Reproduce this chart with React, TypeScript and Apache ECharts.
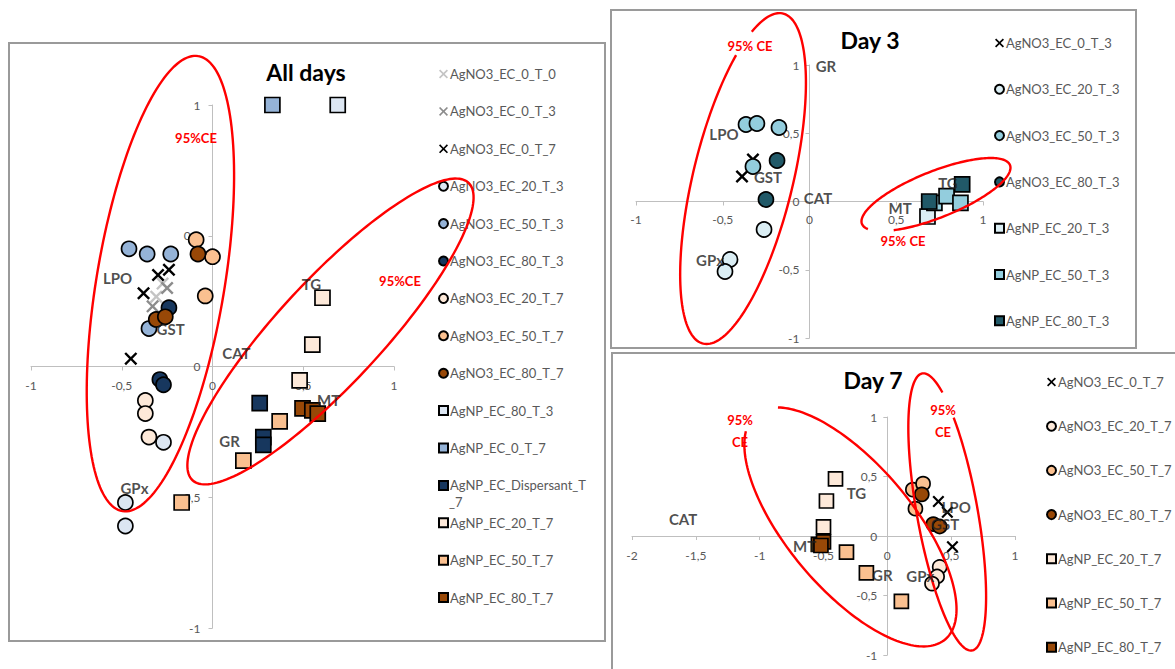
import React, { useEffect, useRef } from 'react';
import * as echarts from 'echarts';

const FONT = 'Lato, "Open Sans", sans-serif';
const CROSS = 'path://M0,1.3L1.3,0L5,3.7L8.7,0L10,1.3L6.3,5L10,8.7L8.7,10L5,6.3L1.3,10L0,8.7L3.7,5Z';
const TAU = Math.PI * 2;

// ---------- All days ----------
const allNO3_0_T0 = [[-0.275, 0.317], [-0.31, 0.267]];
const allNO3_0_T3 = [[-0.25, 0.3], [1.01, 0.09], [-0.33, 0.23]];
const allNO3_0_T7 = [[-0.3, 0.35], [-0.24, 0.37], [-0.38, 0.28], [-0.45, 0.03]];
const allNO3_20_T3 = [[-0.27, -0.29], [-0.48, -0.52], [-0.48, -0.61]];
const allNO3_50_T3 = [[-0.46, 0.45], [-0.36, 0.43], [-0.23, 0.43], [-0.35, 0.145]];
const allNO3_80_T3 = [[-0.24, 0.225], [-0.29, -0.05], [-0.27, -0.07]];
const allNO3_20_T7 = [[-0.37, -0.13], [-0.37, -0.18], [-0.35, -0.27]];
const allNO3_50_T7 = [[-0.09, 0.485], [0.0, 0.42], [-0.04, 0.27]];
const allNO3_80_T7 = [[-0.08, 0.43], [-0.31, 0.18], [-0.26, 0.19]];
const allNP_80_T3 = [[0.69, 1.0]];
const allNP_0_T7 = [[0.33, 1.0]];
const allNP_Disp_T7 = [[0.26, -0.14], [0.28, -0.27], [0.28, -0.3]];
const allNP_20_T7 = [[0.606, 0.263], [0.55, 0.084], [0.48, -0.053]];
const allNP_50_T7 = [[0.37, -0.21], [0.17, -0.36], [-0.17, -0.52]];
const allNP_80_T7 = [[0.496, -0.16], [0.55, -0.168], [0.58, -0.18]];
const allVarLabels = [['LPO', -0.523, 0.34], ['GST', -0.231, 0.145], ['CAT', 0.132, 0.05], ['TG', 0.545, 0.317], ['MT', 0.64, -0.13], ['GR', 0.094, -0.286], ['GPx', -0.43, -0.466]];
// ellipse: centre x, centre y, semi-axis A (x, y), semi-axis B (x, y), start angle, end angle
const allEllipses = [
  [-0.287, 0.317, 0.209, 0.87, 0.348, -0.04, 0, TAU],
  [0.65, 0.134, 0.76, 0.569, 0.21, -0.135, 0, TAU],
];

// ---------- Day 3 ----------
const d3NO3_0_T3 = [[-0.389, 0.183], [-0.326, 0.308]];
const d3NO3_20_T3 = [[-0.262, -0.205], [-0.458, -0.425], [-0.487, -0.513]];
const d3NO3_50_T3 = [[-0.366, 0.564], [-0.303, 0.571], [-0.176, 0.542], [-0.326, 0.256]];
const d3NO3_80_T3 = [[-0.187, 0.3], [-0.251, 0.015]];
const d3NP_20_T3 = [[0.68, -0.11]];
const d3NP_50_T3 = [[0.72, -0.01], [0.79, 0.04], [0.87, -0.01]];
const d3NP_80_T3 = [[0.69, 0.0], [0.88, 0.125]];
const d3VarLabels = [['GR', 0.095, 0.99], ['LPO', -0.493, 0.498], ['GST', -0.239, 0.176], ['CAT', 0.049, 0.022], ['GPx', -0.573, -0.432], ['TG', 0.798, 0.132], ['MT', 0.522, -0.051]];
const d3Ellipses = [
  [-0.383, 0.168, 0.2305, 1.209, 0.2797, -0.0863, -0.55, TAU - 0.8],
  [0.729, 0.051, 0.4265, 0.216, 0.0496, -0.158, 2.84, TAU + 2.29],
];

// ---------- Day 7 ----------
const d7NO3_0_T7 = [[0.4, 0.29], [0.47, 0.2], [0.51, -0.09]];
const d7NO3_20_T7 = [[0.41, -0.26], [0.39, -0.34], [0.35, -0.4]];
const d7NO3_50_T7 = [[0.2, 0.39], [0.28, 0.44], [0.22, 0.23]];
const d7NO3_80_T7 = [[0.27, 0.35], [0.36, 0.1], [0.41, 0.08]];
const d7NP_20_T7 = [[-0.406, 0.48], [-0.477, 0.294], [-0.5, 0.076]];
const d7NP_50_T7 = [[-0.32, -0.135], [-0.164, -0.31], [0.11, -0.55]];
const d7NP_80_T7 = [[-0.54, -0.07], [-0.5, -0.05], [-0.52, -0.08]];
const d7VarLabels = [['CAT', -1.6, 0.143], ['TG', -0.242, 0.361], ['MT', -0.648, -0.084], ['GR', -0.039, -0.328], ['GPx', 0.258, -0.336], ['LPO', 0.539, 0.244], ['GST', 0.453, 0.1]];
const d7Ellipses = [
  [-0.289, 0.076, 0.742, -0.945, 0.374, 0.339, 3.44, TAU + 2.79],
  [0.469, 0.202, 0.195, -1.164, 0.234, 0.0455, 2.57, TAU + 2.28],
];

type S = { name: string; shape: string; color: string; data: number[][] };

const allSeries: S[] = [
  { name: 'AgNO3_EC_0_T_0', shape: 'cross', color: '#c4c4c4', data: allNO3_0_T0 },
  { name: 'AgNO3_EC_0_T_3', shape: 'cross', color: '#8c8c8c', data: allNO3_0_T3 },
  { name: 'AgNO3_EC_0_T_7', shape: 'cross', color: '#000000', data: allNO3_0_T7 },
  { name: 'AgNO3_EC_20_T_3', shape: 'circle', color: '#dce6f2', data: allNO3_20_T3 },
  { name: 'AgNO3_EC_50_T_3', shape: 'circle', color: '#95b3d7', data: allNO3_50_T3 },
  { name: 'AgNO3_EC_80_T_3', shape: 'circle', color: '#17375e', data: allNO3_80_T3 },
  { name: 'AgNO3_EC_20_T_7', shape: 'circle', color: '#fde9d9', data: allNO3_20_T7 },
  { name: 'AgNO3_EC_50_T_7', shape: 'circle', color: '#fac090', data: allNO3_50_T7 },
  { name: 'AgNO3_EC_80_T_7', shape: 'circle', color: '#984807', data: allNO3_80_T7 },
  { name: 'AgNP_EC_80_T_3', shape: 'rect', color: '#dce6f2', data: allNP_80_T3 },
  { name: 'AgNP_EC_0_T_7', shape: 'rect', color: '#95b3d7', data: allNP_0_T7 },
  { name: 'AgNP_EC_Dispersant_T_7', shape: 'rect', color: '#17375e', data: allNP_Disp_T7 },
  { name: 'AgNP_EC_20_T_7', shape: 'rect', color: '#fde9d9', data: allNP_20_T7 },
  { name: 'AgNP_EC_50_T_7', shape: 'rect', color: '#fac090', data: allNP_50_T7 },
  { name: 'AgNP_EC_80_T_7', shape: 'rect', color: '#984807', data: allNP_80_T7 },
];

const d3Series: S[] = [
  { name: 'AgNO3_EC_0_T_3', shape: 'cross', color: '#000000', data: d3NO3_0_T3 },
  { name: 'AgNO3_EC_20_T_3', shape: 'circle', color: '#dbeef4', data: d3NO3_20_T3 },
  { name: 'AgNO3_EC_50_T_3', shape: 'circle', color: '#93cddd', data: d3NO3_50_T3 },
  { name: 'AgNO3_EC_80_T_3', shape: 'circle', color: '#215968', data: d3NO3_80_T3 },
  { name: 'AgNP_EC_20_T_3', shape: 'rect', color: '#dbeef4', data: d3NP_20_T3 },
  { name: 'AgNP_EC_50_T_3', shape: 'rect', color: '#93cddd', data: d3NP_50_T3 },
  { name: 'AgNP_EC_80_T_3', shape: 'rect', color: '#215968', data: d3NP_80_T3 },
];

const d7Series: S[] = [
  { name: 'AgNO3_EC_0_T_7', shape: 'cross', color: '#000000', data: d7NO3_0_T7 },
  { name: 'AgNO3_EC_20_T_7', shape: 'circle', color: '#fde9d9', data: d7NO3_20_T7 },
  { name: 'AgNO3_EC_50_T_7', shape: 'circle', color: '#fac090', data: d7NO3_50_T7 },
  { name: 'AgNO3_EC_80_T_7', shape: 'circle', color: '#984807', data: d7NO3_80_T7 },
  { name: 'AgNP_EC_20_T_7', shape: 'rect', color: '#fde9d9', data: d7NP_20_T7 },
  { name: 'AgNP_EC_50_T_7', shape: 'rect', color: '#fac090', data: d7NP_50_T7 },
  { name: 'AgNP_EC_80_T_7', shape: 'rect', color: '#984807', data: d7NP_80_T7 },
];

function ellipseItem(params: any, api: any) {
  const cx = api.value(0), cy = api.value(1), ax = api.value(2), ay = api.value(3), bx = api.value(4), by = api.value(5);
  const t0 = api.value(6), t1 = api.value(7);
  const pts: number[][] = [];
  const n = 180;
  for (let i = 0; i <= n; i++) {
    const t = t0 + ((t1 - t0) * i) / n;
    pts.push(api.coord([cx + ax * Math.cos(t) + bx * Math.sin(t), cy + ay * Math.cos(t) + by * Math.sin(t)]));
  }
  return { type: 'polyline', shape: { points: pts }, style: { stroke: '#ff0000', lineWidth: 2.4, fill: 'none' }, silent: true };
}

const fmt = (v: number) => String(v).replace('.', ',');

// axes cross at zero: each axis is shifted into the grid by `offset`
function axis(min: number, max: number, offset: number, margin: number) {
  return {
    type: 'value', min, max, interval: 0.5,
    offset,
    axisLine: { onZero: false, lineStyle: { color: '#bfbfbf', width: 1 } },
    axisTick: { show: true, length: 4, lineStyle: { color: '#bfbfbf' } },
    splitLine: { show: false },
    axisLabel: { formatter: fmt, color: '#595959', fontFamily: FONT, fontSize: 12, margin, showMinLabel: true, showMaxLabel: true },
  };
}

function seriesOf(list: S[], size: number) {
  return list.map((s) => ({
    type: 'scatter',
    name: s.name,
    data: s.data,
    symbol: s.shape === 'cross' ? CROSS : s.shape,
    symbolSize: s.shape === 'cross' ? size - 2 : size,
    itemStyle: s.shape === 'cross'
      ? { color: s.color, borderWidth: 0, opacity: 1 }
      : { color: s.color, borderColor: '#000000', borderWidth: 1.7, opacity: 1 },
    z: 3,
  }));
}

function labelSeries(labels: any[]) {
  return {
    type: 'scatter',
    name: '__vars',
    data: labels.map((l) => ({ name: l[0], value: [l[1], l[2]] })),
    symbolSize: 1,
    itemStyle: { color: 'rgba(0,0,0,0)' },
    label: { show: true, position: 'inside', formatter: '{b}', color: '#1f1f1f', fontFamily: FONT, fontSize: 15, fontWeight: 'bold' },
    z: 6,
    silent: true,
  };
}

function ellipseSeries(data: number[][]) {
  return { type: 'custom', name: '__ell', data, renderItem: ellipseItem, clip: false, silent: true, z: 4 };
}

function legendOf(names: string[], left: number, top: number, gap: number) {
  return {
    orient: 'vertical', left, top, itemGap: gap, itemWidth: 9, itemHeight: 9, selectedMode: false,
    data: names,
    formatter: (n: string) => (n === 'AgNP_EC_Dispersant_T_7' ? 'AgNP_EC_Dispersant_T' : n),
    textStyle: { color: '#595959', fontFamily: FONT, fontSize: 13, lineHeight: 16, padding: [0, 0, 0, -3] },
  };
}

function txt(x: number, y: number, text: string, opts: any = {}) {
  return {
    type: 'text', x, y, z: 100,
    style: { text, align: 'center', verticalAlign: 'middle', fontFamily: FONT, ...opts },
  };
}

function border(w: number, h: number) {
  return { type: 'rect', z: 100, shape: { x: 1, y: 1, width: w - 2, height: h - 2 }, style: { fill: 'none', stroke: '#9a9a9a', lineWidth: 2 }, silent: true };
}

const red = { fill: '#ff0000', fontSize: 13, fontWeight: 'bold' };
const title = { fill: '#000000', fontSize: 23, fontWeight: 'bold' };

function optAll() {
  const names = allSeries.map((s) => s.name);
  const W = 363, H = 523;
  return {
    animation: false,
    grid: { left: 23, top: 63, width: W, height: H, containLabel: false, outerBoundsMode: 'none' },
    xAxis: { ...axis(-1, 1, -H / 2, 13), position: 'bottom' },
    yAxis: { ...axis(-1, 1, -W / 2, 12), position: 'left' },
    legend: [legendOf(names, 425, 19, 21.4)],
    series: [ellipseSeries(allEllipses), ...seriesOf(allSeries, 15), labelSeries(allVarLabels)],
    graphic: [
      border(598, 600),
      txt(298, 30, 'All days', title),
      txt(188, 96, '95%CE', red),
      txt(392, 239, '95%CE', red),
      { type: 'text', x: 441, y: 460, z: 100, style: { text: '_7', fill: '#595959', fontFamily: FONT, fontSize: 13, align: 'left', verticalAlign: 'middle' } },
    ],
  };
}

function optD3() {
  const W = 347, H = 273;
  return {
    animation: false,
    grid: { left: 26, top: 56, width: W, height: H, containLabel: false, outerBoundsMode: 'none' },
    xAxis: { ...axis(-1, 1, -H / 2, 12), position: 'bottom' },
    yAxis: { ...axis(-1, 1, -W / 2, 10), position: 'left' },
    legend: [legendOf(d3Series.map((s) => s.name), 379, 21, 30.3)],
    series: [ellipseSeries(d3Ellipses), ...seriesOf(d3Series, 15), labelSeries(d3VarLabels)],
    graphic: [
      border(527, 340),
      txt(260, 31, 'Day 3', title),
      txt(140, 37, '95% CE', red),
      txt(293, 232, '95% CE', red),
    ],
  };
}

function optD7() {
  const W = 383, H = 238;
  return {
    animation: false,
    grid: { left: 21, top: 65, width: W, height: H, containLabel: false, outerBoundsMode: 'none' },
    xAxis: { ...axis(-2, 1, -H / 2, 13), position: 'bottom' },
    yAxis: { ...axis(-1, 1, -W * 2 / 3, 10), position: 'left' },
    legend: [legendOf(d7Series.map((s) => s.name), 430, 17, 28.2)],
    series: [ellipseSeries(d7Ellipses), ...seriesOf(d7Series, 14), labelSeries(d7VarLabels)],
    graphic: [
      { type: 'rect', z: 100, shape: { x: 1, y: 1, width: 700, height: 600 }, style: { fill: 'none', stroke: '#9a9a9a', lineWidth: 2 }, silent: true },
      txt(262, 28, 'Day 7', title),
      txt(129, 79, '95%\nCE', { ...red, lineHeight: 22 }),
      txt(332, 69, '95%\nCE', { ...red, lineHeight: 22 }),
    ],
  };
}

function Panel({ left, top, width, height, build }: any) {
  const ref = useRef<HTMLDivElement>(null);
  useEffect(() => {
    const chart = echarts.init(ref.current!, null, { renderer: 'svg' });
    chart.setOption(build());
    return () => chart.dispose();
  }, []);
  return <div ref={ref} style={{ position: 'absolute', left, top, width, height, overflow: 'hidden' }} />;
}

export default function App() {
  return (
    <div style={{ position: 'absolute', left: 0, top: 0, width: 1175, height: 669, overflow: 'hidden', background: '#ffffff' }}>
      <Panel left={8} top={42} width={598} height={600} build={optAll} />
      <Panel left={610} top={9} width={527} height={340} build={optD3} />
      <Panel left={611} top={352} width={564} height={317} build={optD7} />
    </div>
  );
}
